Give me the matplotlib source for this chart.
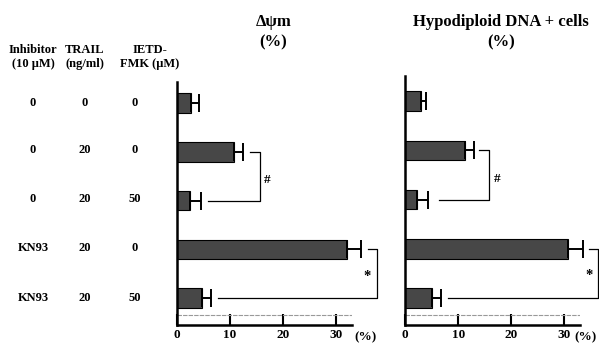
import numpy as np
import matplotlib.pyplot as plt

plt.rcParams['font.family'] = ['Liberation Serif', 'DejaVu Serif']
plt.rcParams['font.weight'] = 'bold'

inhibitor = ["0", "0", "0", "KN93", "KN93"]
trail = ["0", "20", "20", "20", "20"]
ietd = ["0", "0", "50", "0", "50"]

dpsi = [2.6, 10.8, 2.5, 32.0, 4.7]
dpsi_err = [1.6, 1.6, 2.0, 2.7, 1.7]
hypo = [2.9, 11.2, 2.3, 30.7, 5.1]
hypo_err = [1.1, 1.7, 1.9, 2.8, 1.6]

xticks = [0, 10, 20, 30]

fig = plt.figure(figsize=(5.99, 3.43), dpi=100)

rows = np.arange(len(dpsi))


def panel(rect, vals, errs, title, top, br1, br2, unit_x):
    ax = fig.add_axes(rect)
    ax.barh(rows, vals, height=0.4, color='#474747', edgecolor='black', lw=0.8)
    _, caps, bars = ax.errorbar(vals, rows, xerr=[np.zeros(len(vals)), errs],
                                fmt='none', ecolor='black', elinewidth=1.4,
                                capsize=6.5, capthick=1.4)
    for c in list(caps) + list(bars):
        c.set_clip_on(False)
    ax.set_xlim(0, 33)
    ax.set_ylim(4.55, top)
    ax.set_yticks([])
    ax.set_xticks(xticks)
    ax.set_xticklabels([str(t) for t in xticks], fontsize=9.5, fontweight='bold')
    ax.tick_params(axis='x', direction='in', length=8, width=1.5, pad=3)
    for s in ['top', 'right']:
        ax.spines[s].set_visible(False)
    ax.spines['left'].set_linewidth(1.8)
    ax.spines['bottom'].set_linewidth(1.8)
    ax.axhline(4.35, color='#999999', lw=0.8, ls=(0, (4, 1)))
    ax.annotate("(%)", xy=(unit_x, 0), xycoords=('data', 'axes fraction'),
                xytext=(0, -4.5), textcoords='offset points', fontsize=9.5,
                fontweight='bold', va='top', ha='center', annotation_clip=False)
    # significance brackets
    x0, x1, xs = br1
    ax.plot([x0, x1, x1, xs], [1, 1, 2, 2], color='black', lw=0.9, clip_on=False)
    ax.text(x1 + 1.5, 1.58, "#", fontsize=9.5, ha='center', va='center')
    x0, x1, xs = br2
    ax.plot([x0, x1, x1, xs], [3, 3, 4, 4], color='black', lw=0.9, clip_on=False)
    ax.text(x1 - 1.8, 3.55, "*", fontsize=10.5, ha='center', va='center')
    fig.text(rect[0] + rect[2] * 0.55, 0.935, title, fontsize=12,
             fontweight='bold', ha='center', va='center')
    fig.text(rect[0] + rect[2] * 0.55, 0.877, "(%)", fontsize=12,
             fontweight='bold', ha='center', va='center')
    return ax


panel([0.2955, 0.0525, 0.292, 0.7085], dpsi, dpsi_err, "Δψm", -0.43,
      (13.7, 15.6, 5.9), (36.1, 37.7, 7.7), 35.6)
panel([0.6766, 0.0525, 0.2915, 0.7255], hypo, hypo_err,
      "Hypodiploid DNA + cells", -0.51,
      (13.9, 15.9, 6.4), (34.8, 36.5, 8.0), 34.0)

# treatment table on the left
row_y = [103, 150, 199, 248, 298]
cols = [(33, inhibitor, "Inhibitor\n(10 μM)"),
        (85, trail, "TRAIL\n(ng/ml)"),
        (135, ietd, "IETD-\nFMK (μM)")]
for cx, labels, head in cols:
    hx = 150 if head.startswith("IETD") else cx
    fig.text(hx / 599, 1 - 57 / 343, head, fontsize=9, fontweight='bold',
             ha='center', va='center', linespacing=1.2)
    for yy, lab in zip(row_y, labels):
        fig.text(cx / 599, 1 - yy / 343, lab, fontsize=9, fontweight='bold',
                 ha='center', va='center')

fig.savefig("out.png", dpi=100)
